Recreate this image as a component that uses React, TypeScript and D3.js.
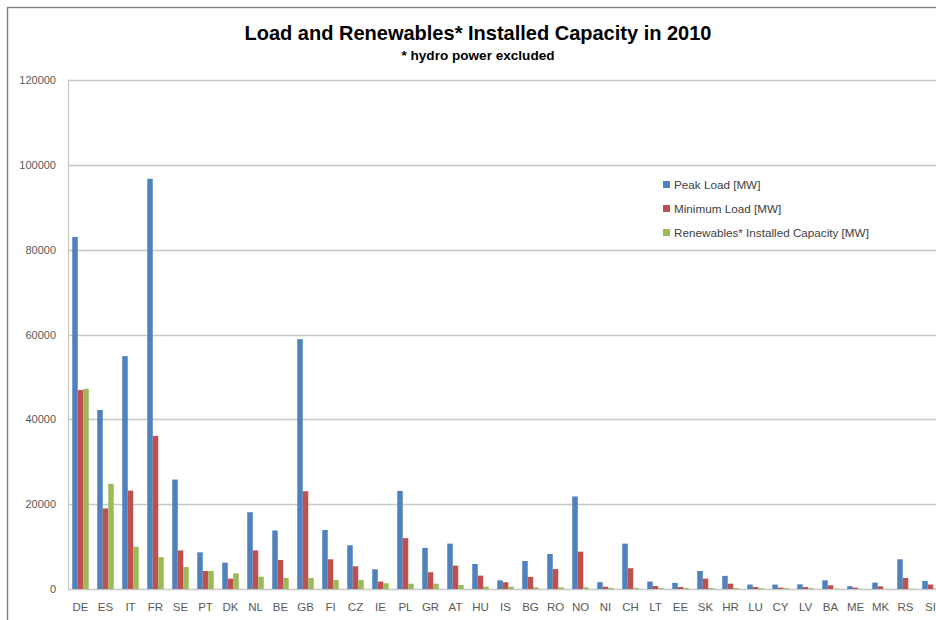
import React, { useEffect, useRef } from 'react';
import * as d3 from 'd3';

const categories = ['DE', 'ES', 'IT', 'FR', 'SE', 'PT', 'DK', 'NL', 'BE', 'GB', 'FI', 'CZ', 'IE', 'PL', 'GR', 'AT', 'HU', 'IS', 'BG', 'RO', 'NO', 'NI', 'CH', 'LT', 'EE', 'SK', 'HR', 'LU', 'CY', 'LV', 'BA', 'ME', 'MK', 'RS', 'SI'];
const peakLoad = [83000, 42200, 54900, 96700, 25800, 8650, 6200, 18100, 13800, 58900, 13900, 10300, 4650, 23100, 9700, 10700, 5900, 2050, 6600, 8250, 21800, 1600, 10700, 1750, 1450, 4250, 3100, 1050, 1050, 1100, 2050, 650, 1500, 7000, 1900];
const minLoad = [46900, 19000, 23200, 36100, 9100, 4250, 2450, 9100, 6850, 23050, 7000, 5350, 1750, 12000, 3950, 5500, 3150, 1600, 2850, 4700, 8800, 550, 4900, 700, 480, 2450, 1250, 480, 320, 470, 870, 320, 630, 2600, 1050];
const renewables = [47200, 24800, 9950, 7500, 5200, 4250, 3700, 2900, 2600, 2600, 2150, 2150, 1350, 1250, 1250, 950, 550, 550, 400, 400, 400, 250, 250, 240, 240, 240, 240, 200, 200, 200, 100, 50, 50, 80, 120];
const seriesNames = ['Peak Load [MW]', 'Minimum Load [MW]', 'Renewables* Installed Capacity [MW]'];
const seriesColors = ['#4f81bd', '#c0504d', '#9bbb59'];
const yTicks = [0, 20000, 40000, 60000, 80000, 100000, 120000];

const W = 936;
const H = 620;
const margin = { left: 68, top: 80, bottom: 589 };

const App: React.FC = () => {
  const svgRef = useRef<SVGSVGElement>(null);

  useEffect(() => {
    if (!svgRef.current) return;
    const svg = d3.select(svgRef.current);
    svg.selectAll('*').remove();

    const font = '"Liberation Sans", Arial, sans-serif';
    const series = [peakLoad, minLoad, renewables];

    // outer chart border (right/bottom edges fall outside the picture)
    svg.append('rect')
      .attr('x', 7.5).attr('y', 7.5)
      .attr('width', 1000).attr('height', 700)
      .attr('fill', '#fff')
      .attr('stroke', '#808080')
      .attr('stroke-width', 1.4);

    const x = d3.scaleBand<string>()
      .domain(categories)
      .range([margin.left, margin.left + categories.length * 25])
      .paddingInner(0.34)
      .paddingOuter(0.17);
    const x1 = d3.scaleBand<number>()
      .domain([0, 1, 2])
      .range([0, x.bandwidth()]);
    const y = d3.scaleLinear().domain([0, 120000]).range([margin.bottom, margin.top]);
    const plotRight = margin.left + categories.length * 25;

    // gridlines
    svg.append('g')
      .selectAll('line')
      .data(yTicks)
      .join('line')
      .attr('x1', margin.left).attr('x2', plotRight)
      .attr('y1', d => Math.round(y(d)) + 0.5).attr('y2', d => Math.round(y(d)) + 0.5)
      .attr('stroke', '#c8c8c8')
      .attr('stroke-width', 1.3);

    // y axis line
    svg.append('line')
      .attr('x1', margin.left + 0.5).attr('x2', margin.left + 0.5)
      .attr('y1', margin.top).attr('y2', margin.bottom)
      .attr('stroke', '#c8c8c8')
      .attr('stroke-width', 1.3);

    // y tick labels
    svg.append('g')
      .selectAll('text')
      .data(yTicks)
      .join('text')
      .attr('x', 56)
      .attr('y', d => y(d) + 4)
      .attr('text-anchor', 'end')
      .attr('fill', '#595959')
      .style('font-family', font)
      .style('font-size', '11px')
      .text(d => String(d));

    // bars
    series.forEach((vals, si) => {
      svg.append('g')
        .selectAll('rect')
        .data(categories)
        .join('rect')
        .attr('x', c => (x(c) as number) + (x1(si) as number))
        .attr('y', (c, i) => y(vals[i]))
        .attr('width', x1.bandwidth())
        .attr('height', (c, i) => margin.bottom - y(vals[i]))
        .attr('fill', seriesColors[si]);
    });

    // category labels
    svg.append('g')
      .selectAll('text')
      .data(categories)
      .join('text')
      .attr('x', c => (x(c) as number) + x.bandwidth() / 2)
      .attr('y', 611)
      .attr('text-anchor', 'middle')
      .attr('fill', '#595959')
      .style('font-family', font)
      .style('font-size', '11.5px')
      .text(c => c);

    // title
    svg.append('text')
      .attr('x', 478).attr('y', 40)
      .attr('text-anchor', 'middle')
      .attr('fill', '#000')
      .attr('textLength', 467)
      .attr('lengthAdjust', 'spacingAndGlyphs')
      .style('font-family', font)
      .style('font-size', '21px')
      .style('font-weight', 'bold')
      .text('Load and Renewables* Installed Capacity in 2010');

    svg.append('text')
      .attr('x', 478).attr('y', 60)
      .attr('text-anchor', 'middle')
      .attr('fill', '#000')
      .attr('textLength', 153)
      .attr('lengthAdjust', 'spacingAndGlyphs')
      .style('font-family', font)
      .style('font-size', '12px')
      .style('font-weight', 'bold')
      .text('* hydro power excluded');

    // legend
    const legend = svg.append('g').attr('transform', 'translate(663,185)');
    seriesNames.forEach((name, i) => {
      const row = legend.append('g').attr('transform', `translate(0,${i * 24})`);
      row.append('rect')
        .attr('x', 0).attr('y', -4)
        .attr('width', 7).attr('height', 7)
        .attr('fill', seriesColors[i]);
      row.append('text')
        .attr('x', 11).attr('y', 4)
        .attr('fill', '#404040')
        .style('font-family', font)
        .style('font-size', '11.7px')
        .text(name);
    });
  }, []);

  return (
    <svg
      ref={svgRef}
      width={W}
      height={H}
      style={{ position: 'absolute', left: 0, top: 0, background: '#fff' }}
    />
  );
};

export default App;
